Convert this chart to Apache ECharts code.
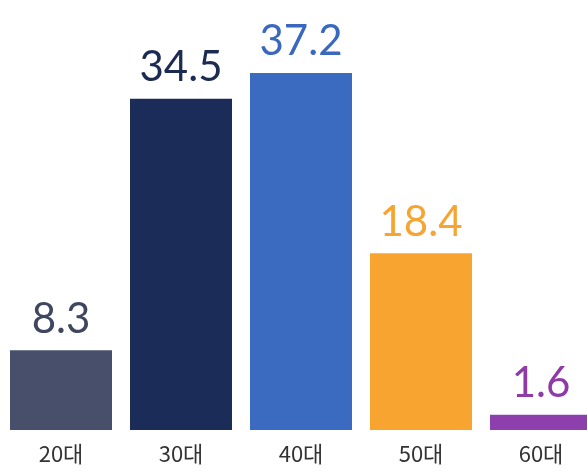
<!DOCTYPE html>
<html>
<head>
<meta charset="utf-8">
<script src="https://cdn.jsdelivr.net/npm/echarts@6/dist/echarts.min.js"></script>
<style>
html,body{margin:0;padding:0;background:#fff;overflow:hidden;width:587px;height:472px;}
#chart{width:601px;height:472px;}
</style>
</head>
<body>
<div id="chart"></div>
<script>
const categories = ['20대', '30대', '40대', '50대', '60대'];
const values = [8.3, 34.5, 37.2, 18.4, 1.6];
const barColors = ['#474f6a', '#1a2c57', '#3a6bc0', '#f7a430', '#8e3fae'];
const labelColors = ['#3f4660', '#1c2b52', '#3a68bd', '#f5a533', '#8e3aa8'];

const chart = echarts.init(document.getElementById('chart'), null, {renderer: 'canvas'});
chart.setOption({
  animation: false,
  backgroundColor: '#ffffff',
  grid: {left: 1, right: 0, top: 46, bottom: 42, containLabel: false},
  xAxis: {
    type: 'category',
    data: categories,
    axisLine: {show: false},
    axisTick: {show: false},
    axisLabel: {
      color: '#333333',
      fontSize: 22,
      margin: 13,
      fontFamily: 'Noto Sans CJK KR'
    }
  },
  yAxis: {
    type: 'value',
    min: 0,
    max: 40,
    show: false,
    splitLine: {show: false}
  },
  series: [{
    type: 'bar',
    barWidth: 102,
    data: values.map((v, i) => ({
      value: v,
      itemStyle: {color: barColors[i]},
      label: {color: labelColors[i]}
    })),
    label: {
      show: true,
      position: 'top',
      distance: 10,
      fontSize: 42,
      fontFamily: 'Lato',
      fontWeight: 'normal'
    }
  }]
});
</script>
</body>
</html>
